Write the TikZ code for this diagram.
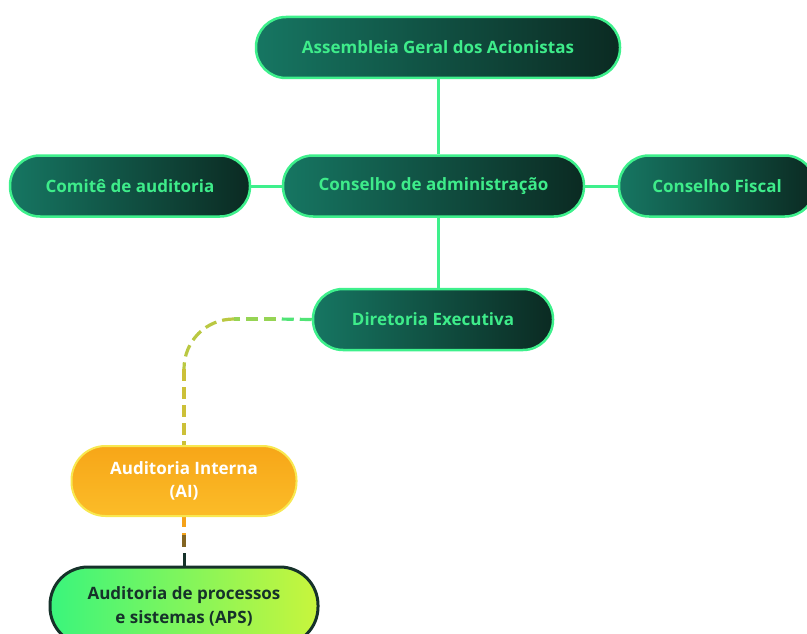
\documentclass[tikz,border=0pt]{standalone}
\usepackage{fontspec}
\setmainfont{Open Sans}
\definecolor{lnk}{RGB}{62,240,140}
\definecolor{gtxt}{RGB}{62,236,138}
\definecolor{gl}{RGB}{22,118,98}
\definecolor{gm}{RGB}{16,88,73}
\definecolor{gr}{RGB}{11,42,34}
\definecolor{apsL}{RGB}{58,245,124}
\definecolor{apsR}{RGB}{200,245,60}
\definecolor{apsB}{RGB}{22,50,42}
\definecolor{aiT}{RGB}{247,166,24}
\definecolor{aiB}{RGB}{251,188,40}
\definecolor{aiE}{RGB}{248,232,80}
\tikzset{
  darkbox/.style={draw=lnk, line width=2.5pt, rounded corners=30pt, left color=gl, middle color=gm, right color=gr,
    text=gtxt, font=\fontsize{17}{20}\selectfont\bfseries, minimum height=61pt, inner sep=0pt, align=center},
  aibox/.style={draw=aiE, line width=2pt, rounded corners=34pt, top color=aiT, bottom color=aiB,
    text=white, font=\fontsize{17}{23.5}\selectfont\bfseries, minimum height=70pt, minimum width=225pt, inner sep=0pt, align=center},
  apsbox/.style={draw=apsB, line width=3pt, rounded corners=38pt, left color=apsL, right color=apsR,
    text=apsB, font=\fontsize{17}{24}\selectfont\bfseries, minimum height=78pt, minimum width=268pt, inner sep=0pt, align=center},
  link/.style={draw=lnk, line width=3pt},
  dlink/.style={line width=3.2pt, dash pattern=on 12pt off 6pt},
}
\begin{document}
\begin{tikzpicture}[x=1pt,y=-1pt]
\useasboundingbox (0,0) rectangle (807,634);
\node[darkbox, minimum width=364pt] (ag) at (438,47.5) {Assembleia Geral dos Acionistas};
\node[darkbox, minimum width=240pt] (cm) at (130,186) {Comitê de auditoria};
\node[darkbox, minimum width=301pt] (ca) at (433.5,186) {Conselho de administração};
\node[darkbox, minimum width=196pt] (cf) at (717,186) {Conselho Fiscal};
\node[darkbox, minimum width=240pt] (de) at (433,319.5) {Diretoria Executiva};
\draw[link] (ag.south -| 438,0) -- (ca.north -| 438,0);
\draw[link] (ca.south -| 438,0) -- (de.north -| 438,0);
\draw[link] (cm.east) -- (ca.west);
\draw[link] (ca.east) -- (cf.west);
\coordinate (p1) at (276,319);
\coordinate (p2) at (234,319);
\coordinate (p3) at (184,369);
\coordinate (p4) at (184,535);
\coordinate (p5) at (184,553);
\coordinate (aitop) at (184,445);
\coordinate (aibot) at (184,515);
\coordinate (apstop) at (184,566);
\draw[dlink, draw={rgb,255:red,80;green,228;blue,118}] (de.west) -- (p1);
\draw[dlink, draw={rgb,255:red,150;green,212;blue,84}] (p1) -- (p2);
\draw[dlink, draw={rgb,255:red,186;green,200;blue,66}] (p2) .. controls (206,319) and (184,341) .. (p3);
\draw[dlink, draw={rgb,255:red,204;green,192;blue,56}] (p3) -- (aitop);
\draw[dlink, draw={rgb,255:red,245;green,162;blue,26}] (aibot) -- (p4);
\draw[dlink, draw={rgb,255:red,130;green,100;blue,34}] (p4) -- (p5);
\draw[line width=3pt, draw=apsB] (p5) -- (apstop);
\node[aibox] (ai) at (184,481) {Auditoria Interna\\(AI)};
\node[apsbox] (aps) at (184,606) {Auditoria de processos\\e sistemas (APS)};
\end{tikzpicture}
\end{document}
